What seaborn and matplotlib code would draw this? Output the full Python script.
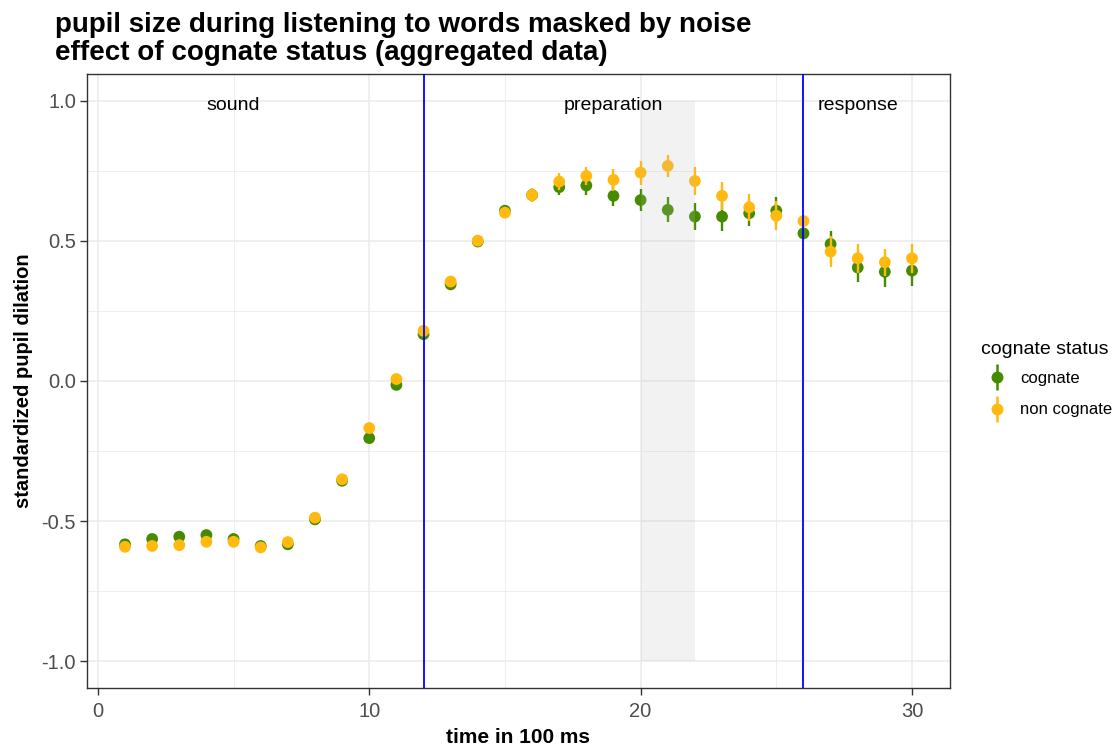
import matplotlib
matplotlib.use("Agg")
import matplotlib.pyplot as plt
import seaborn as sns
import pandas as pd
import numpy as np
from matplotlib.lines import Line2D
from matplotlib.legend_handler import HandlerTuple
from matplotlib.patches import Rectangle

time = list(range(1, 31))
cognate_mean = [-0.583, -0.564, -0.556, -0.550, -0.564, -0.589, -0.583, -0.494, -0.356, -0.204,
                -0.014, 0.167, 0.345, 0.498, 0.608, 0.664, 0.692, 0.698, 0.661, 0.646,
                0.611, 0.587, 0.587, 0.599, 0.608, 0.527, 0.489, 0.405, 0.390, 0.394]
cognate_err = [0.010, 0.010, 0.010, 0.010, 0.010, 0.010, 0.010, 0.010, 0.010, 0.010,
               0.012, 0.012, 0.012, 0.015, 0.020, 0.025, 0.027, 0.033, 0.038, 0.040,
               0.045, 0.049, 0.053, 0.045, 0.048, 0.015, 0.045, 0.050, 0.054, 0.056]
noncog_mean = [-0.592, -0.589, -0.586, -0.574, -0.574, -0.594, -0.575, -0.488, -0.351, -0.168,
               0.007, 0.179, 0.355, 0.501, 0.601, 0.664, 0.712, 0.732, 0.718, 0.744,
               0.768, 0.714, 0.661, 0.620, 0.590, 0.571, 0.462, 0.438, 0.424, 0.438]
noncog_err = [0.010, 0.010, 0.010, 0.010, 0.010, 0.010, 0.010, 0.010, 0.010, 0.010,
              0.012, 0.012, 0.012, 0.015, 0.020, 0.025, 0.030, 0.033, 0.038, 0.043,
              0.039, 0.050, 0.050, 0.048, 0.052, 0.015, 0.056, 0.052, 0.048, 0.052]
groups = ["cognate", "non cognate"]
colors = {"cognate": "#458B00", "non cognate": "#FFB90F"}
phase_labels = ["sound", "preparation", "response"]
phase_x = [5, 19, 28]
boundaries = [12, 26]

df = pd.concat([
    pd.DataFrame({"time": time, "mean": cognate_mean, "err": cognate_err, "status": "cognate"}),
    pd.DataFrame({"time": time, "mean": noncog_mean, "err": noncog_err, "status": "non cognate"}),
])

sns.set_theme(style="white")
plt.rcParams['font.family'] = ['Liberation Sans', 'DejaVu Sans']

fig = plt.figure(figsize=(11.18, 7.49), dpi=100)
ax = fig.add_axes([87/1118, 1-688/749, (950-87)/1118, (688-74)/749])

z = 3
for g in groups:
    d = df[df.status == g]
    ax.errorbar(d["time"], d["mean"], yerr=d["err"], fmt="none", ecolor=colors[g],
                elinewidth=1.7, capsize=0, zorder=z)
    sns.scatterplot(data=d, x="time", y="mean", color=colors[g], s=72, edgecolor="none",
                    linewidth=0, ax=ax, legend=False, zorder=z + 0.5)
    z += 1

ax.add_patch(Rectangle((20, -1), 2, 2, facecolor="#BEBEBE", alpha=0.2, edgecolor="none", zorder=10))
for b in boundaries:
    ax.axvline(b, color="#0000FF", lw=1.3, zorder=11)
for lab, xx in zip(phase_labels, phase_x):
    ax.text(xx, 0.985, lab, ha="center", va="center", fontsize=14, color="black", zorder=12)

ax.set_xlim(-0.4, 31.4)
ax.set_ylim(-1.096, 1.096)
ax.set_xticks([0, 10, 20, 30])
ax.set_xticks([5, 15, 25], minor=True)
ax.set_yticks([-1.0, -0.5, 0.0, 0.5, 1.0])
ax.set_yticklabels(["-1.0", "-0.5", "0.0", "0.5", "1.0"])
ax.set_yticks([-0.75, -0.25, 0.25, 0.75], minor=True)
ax.grid(True, which="major", color="#EBEBEB", lw=1.1, zorder=0)
ax.grid(True, which="minor", color="#EBEBEB", lw=0.6, zorder=0)
ax.set_axisbelow(True)
for s in ax.spines.values():
    s.set_color("#333333")
    s.set_linewidth(1.0)
ax.tick_params(axis="both", which="major", length=5, width=1, color="#333333",
               labelcolor="#4D4D4D", labelsize=14.5, pad=3, direction="out",
               bottom=True, left=True)
ax.tick_params(axis="x", which="major", pad=5)
ax.tick_params(axis="both", which="minor", length=0)
ax.set_xlabel("time in 100 ms", fontsize=15, fontweight="bold", color="black", labelpad=5)
ax.set_ylabel("standardized pupil dilation", fontsize=14.5, fontweight="bold", color="black", labelpad=6)

fig.text(55/1118, 1-12/749, "pupil size during listening to words masked by noise\neffect of cognate status (aggregated data)",
         ha="left", va="top", fontsize=20, fontweight="bold", linespacing=1.1, color="black")

fig.text(981/1118, 1-349/749, "cognate status", ha="left", va="center", fontsize=14, color="black")
handles = []
for g in groups:
    bar = Line2D([], [], color=colors[g], marker="|", markersize=19, markeredgewidth=1.8, linestyle="none")
    pt = Line2D([], [], color=colors[g], marker="o", markersize=8.6, linestyle="none", markeredgewidth=0)
    handles.append((bar, pt))
leg = fig.legend(handles, groups, handler_map={tuple: HandlerTuple(ndivide=1)},
                 loc="center left", bbox_to_anchor=(967/1118, 1-394/749), frameon=False,
                 fontsize=12, handlelength=1.8, handletextpad=0.5, labelspacing=1.0)
for t in leg.get_texts():
    t.set_color("black")

fig.savefig("out.png", dpi=100)
